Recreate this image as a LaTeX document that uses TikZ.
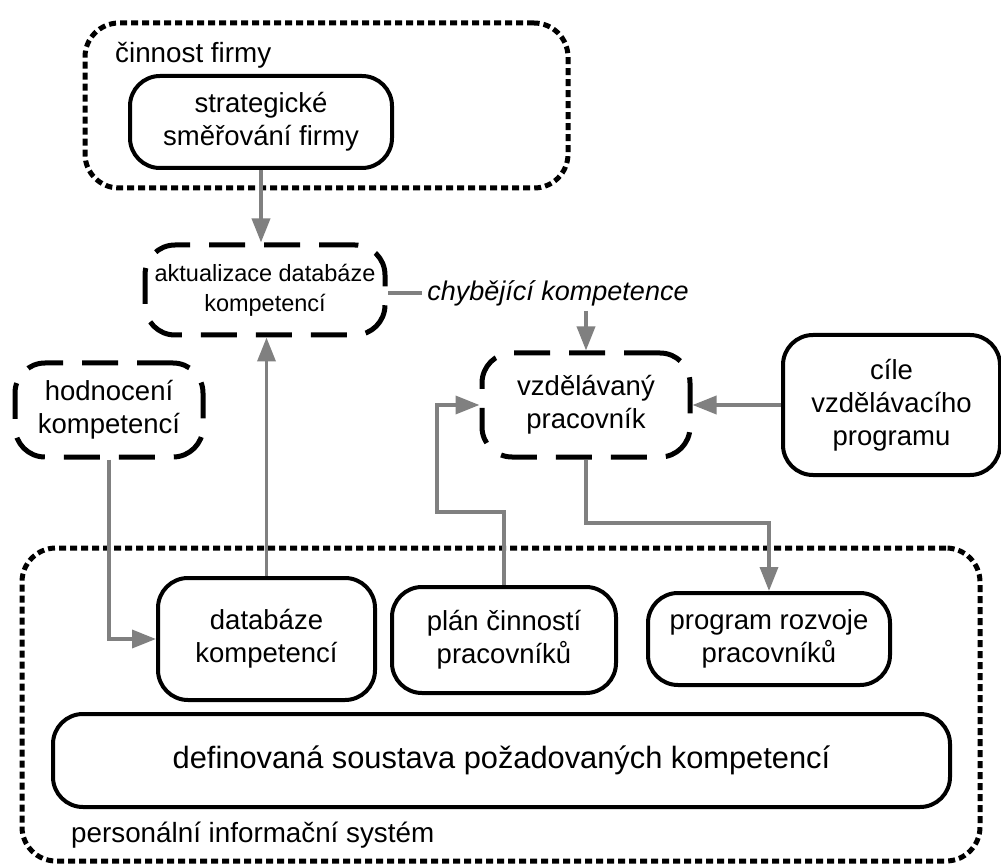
\documentclass[tikz,border=0pt]{standalone}
\usepackage{fontspec}
\setmainfont{Liberation Sans}
\usetikzlibrary{arrows.meta}
\definecolor{linkgray}{HTML}{808080}
\tikzset{
  boxtext/.style={font=\fontsize{27.5}{33}\selectfont, align=center, inner sep=0pt},
  solidbox/.style={boxtext, draw=black, line width=4pt, rounded corners=30pt},
  dashbox/.style={boxtext, draw=black, line width=5pt, rounded corners=30pt,
    dash pattern=on 36pt off 19pt},
  dotbox/.style={draw=black, line width=5pt, rounded corners=34pt,
    dash pattern=on 7pt off 4pt, inner sep=0pt},
  grouplabel/.style={font=\fontsize{27.8}{33}\selectfont, anchor=west, inner sep=0pt},
  link/.style={draw=linkgray, line width=3.5pt},
  arrowlink/.style={link, -{Triangle[length=24pt,width=18pt]}}
}
\begin{document}
\begin{tikzpicture}[x=1pt,y=-1pt]
\useasboundingbox (0,0) rectangle (1001,866);

% group frames
\node[dotbox, minimum width=483pt, minimum height=165pt] (firm) at (326.5,105.5) {};
\node[grouplabel] (firmlabel) at (115,55) {činnost firmy};
\node[dotbox, minimum width=958pt, minimum height=313pt] (pis) at (501,704.5) {};
\node[grouplabel] (pislabel) at (71,835) {personální informační systém};

% process boxes
\node[solidbox, minimum width=262pt, minimum height=92pt] (strat) at (261,122)
  {strategické\\směřování firmy};
\node[dashbox, minimum width=240pt, minimum height=90pt,
  font=\fontsize{23.5}{30}\selectfont] (akt) at (265,290)
  {aktualizace databáze\\kompetencí};
\node[font=\itshape\fontsize{27}{33}\selectfont, inner sep=5pt] (chyb) at (558,293)
  {chybějící kompetence};
\node[dashbox, minimum width=188pt, minimum height=94pt] (hodn) at (109,410)
  {hodnocení\\kompetencí};
\node[dashbox, minimum width=208pt, minimum height=104pt] (vzdel) at (586,405)
  {vzdělávaný\\pracovník};
\node[solidbox, minimum width=217pt, minimum height=140pt] (cile) at (891.5,405)
  {cíle\\vzdělávacího\\programu};
\node[solidbox, minimum width=217pt, minimum height=122pt] (datab) at (266.5,639)
  {databáze\\kompetencí};
\node[solidbox, minimum width=224pt, minimum height=106pt] (plan) at (504,640)
  {plán činností\\pracovníků};
\node[solidbox, minimum width=242pt, minimum height=92pt] (progr) at (769,639)
  {program rozvoje\\pracovníků};
\node[solidbox, minimum width=897pt, minimum height=93pt,
  font=\fontsize{30.8}{36}\selectfont] (defin) at (501.5,760.5)
  {definovaná soustava požadovaných kompetencí};

% bend points of the routed connectors
\coordinate (planbend) at (437,512);
\coordinate (progrbend) at (0,523);

% connectors
\draw[arrowlink] (strat.south) -- (strat.south |- akt.north);
\draw[arrowlink] (datab.north) -- (datab.north |- akt.south);
\draw[link] (chyb.west) -- (chyb.west -| akt.east);
\draw[arrowlink] (chyb.south -| vzdel.north) -- (vzdel.north);
\draw[arrowlink] (cile.west) -- (cile.west -| vzdel.east);
\draw[arrowlink] (hodn.south) |- (datab.west);
\draw[arrowlink] (plan.north) |- (planbend) |- (vzdel.west);
\draw[arrowlink] (vzdel.south) |- (progrbend -| progr.north) -- (progr.north);
\end{tikzpicture}
\end{document}
